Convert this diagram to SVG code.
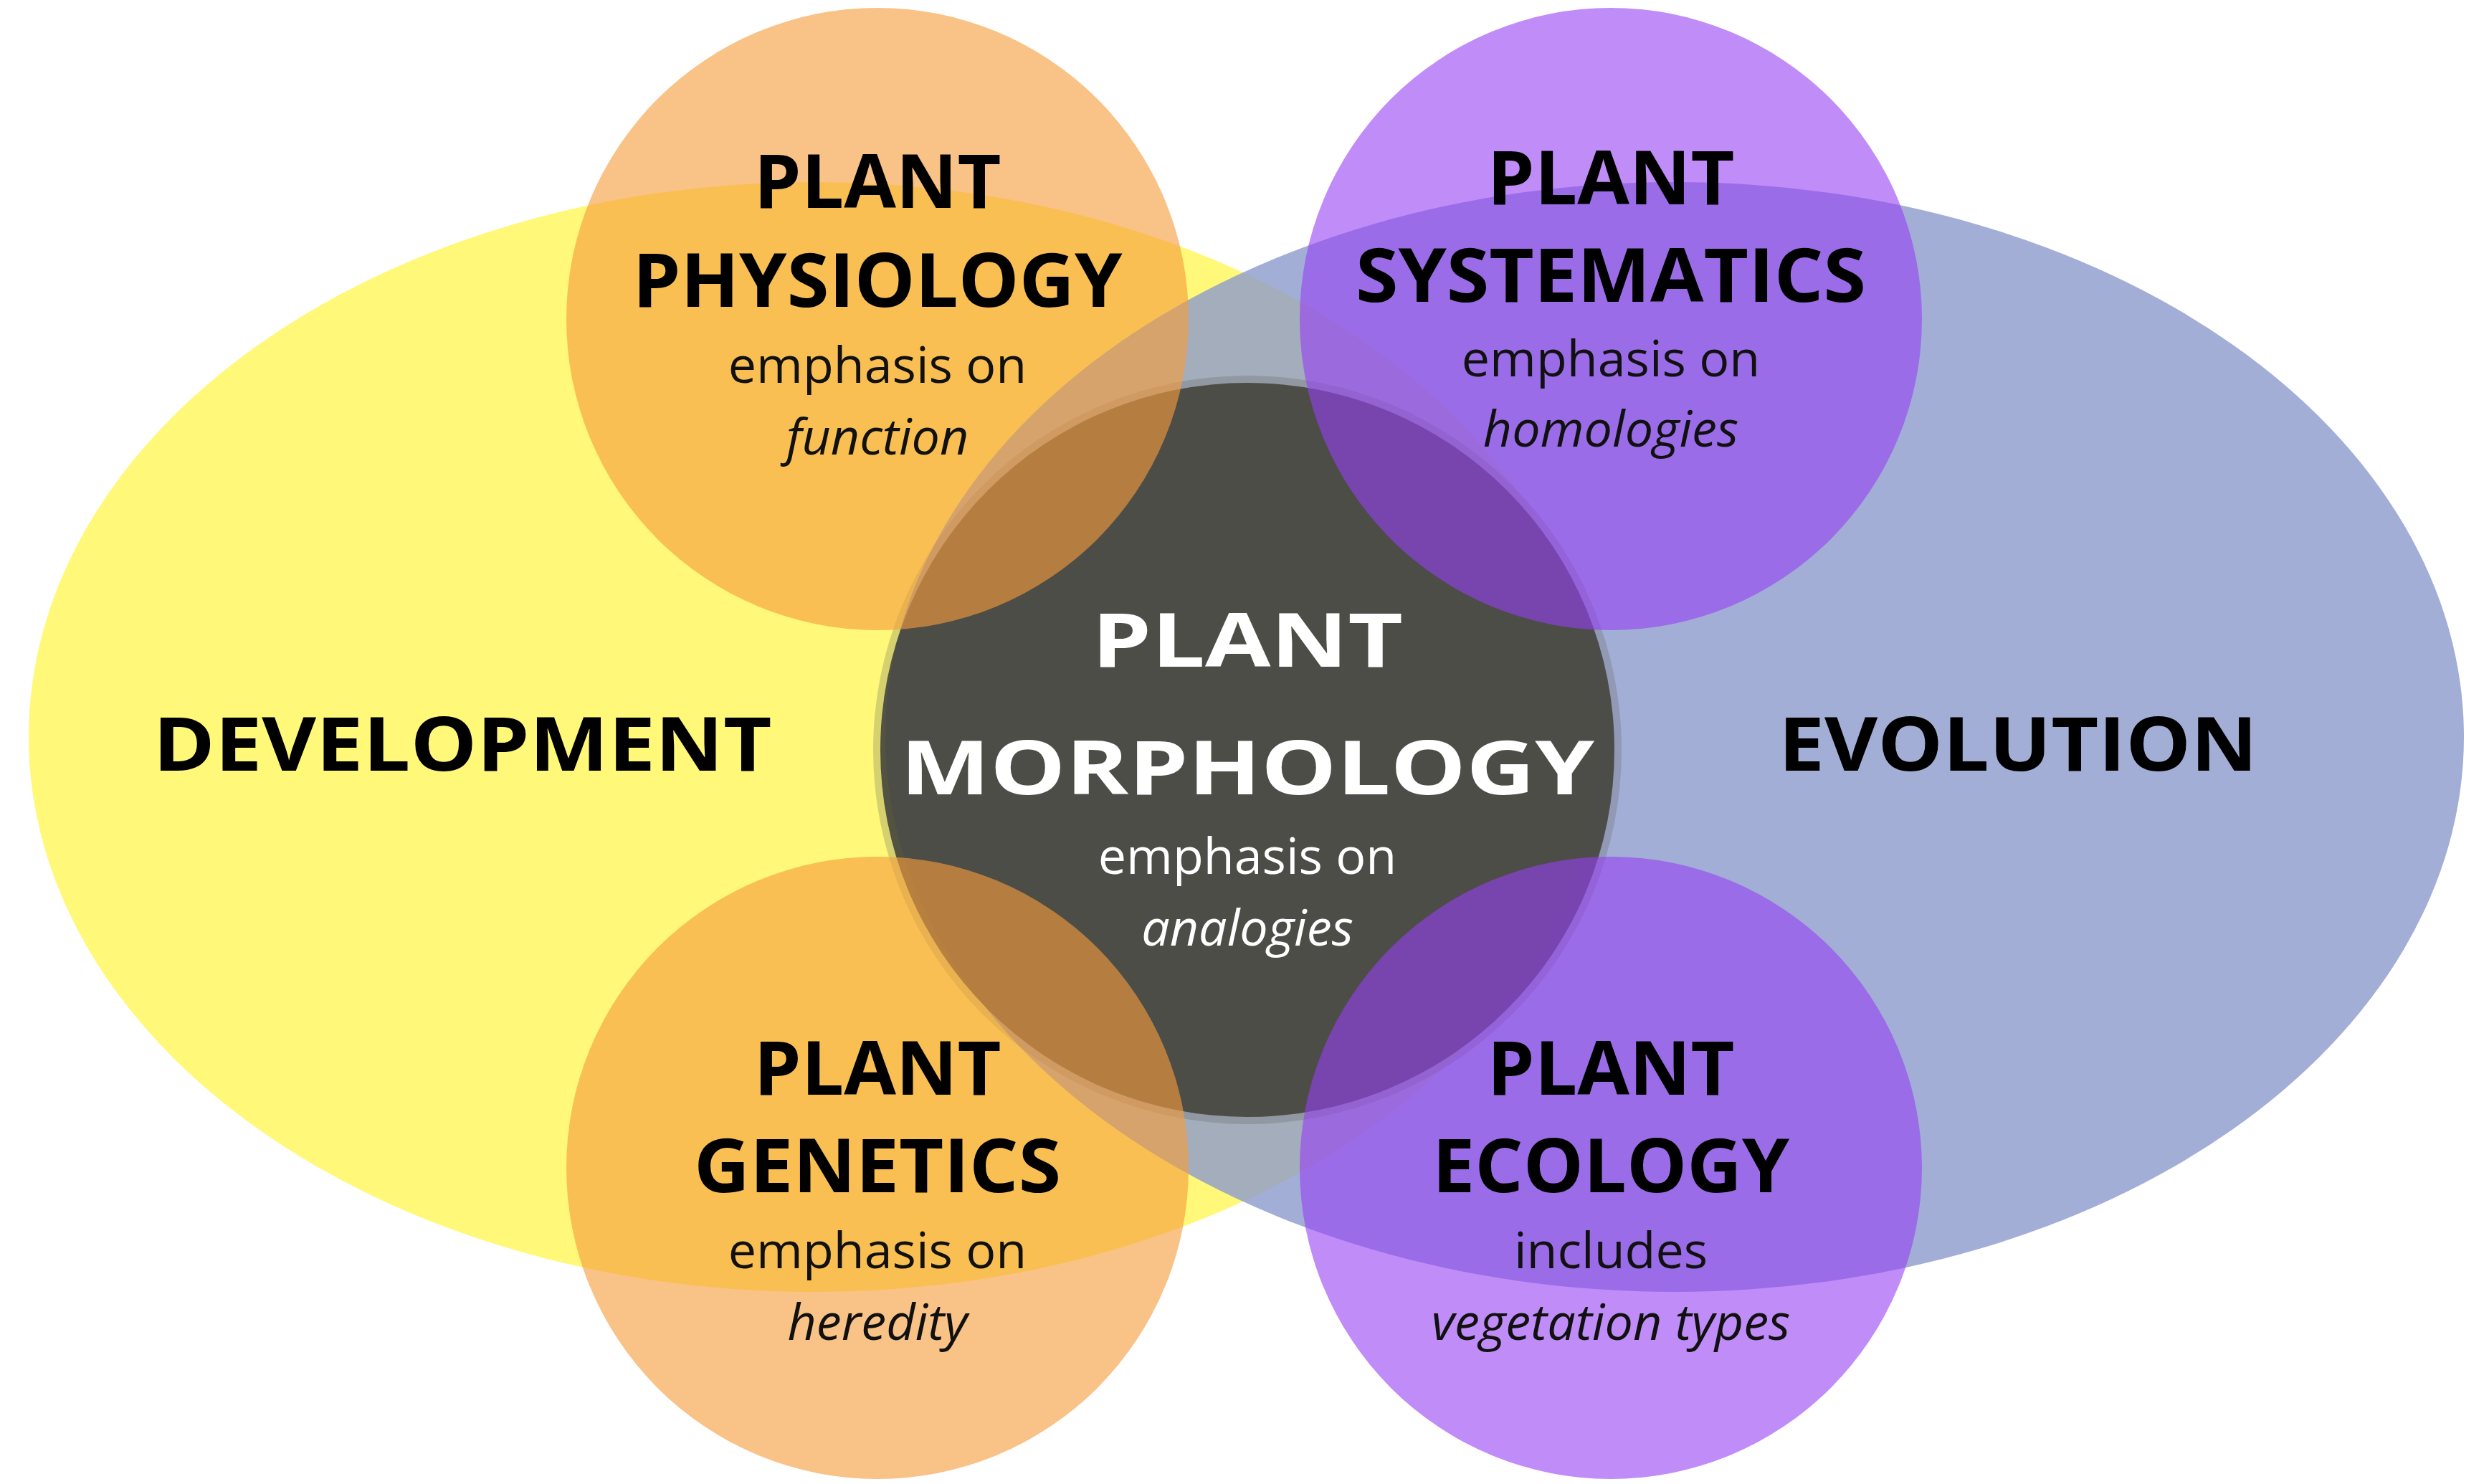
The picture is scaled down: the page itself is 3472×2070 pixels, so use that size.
<svg xmlns="http://www.w3.org/2000/svg" width="3472" height="2070" viewBox="0 0 3472 2070">
<style>
text{font-family:"Open Sans","Liberation Sans",sans-serif;text-anchor:middle}
.t{font-weight:bold;font-size:104px;fill:#000}
.s{font-size:70px;fill:#111}
.i{font-style:italic}
.w{fill:#fff}
</style>
<rect width="3472" height="2070" fill="#fff"/>
<g id="development"><ellipse cx="1135" cy="1028" rx="1095" ry="774" fill="#fff65c" opacity="0.82"/>
<text class="t" x="645" y="1075" textLength="863" lengthAdjust="spacingAndGlyphs">DEVELOPMENT</text></g>
<g id="evolution"><ellipse cx="2336" cy="1028" rx="1101" ry="774" fill="#8c9acc" opacity="0.8"/>
<text class="t" x="2815" y="1075" textLength="668" lengthAdjust="spacingAndGlyphs">EVOLUTION</text></g>
<g id="morphology"><circle cx="1740" cy="1046" r="522" fill="#5a5a52" opacity="0.25"/><circle cx="1740" cy="1046" r="512" fill="#45453d" opacity="0.9"/>
<text class="t w" x="1740" y="930" textLength="434" lengthAdjust="spacingAndGlyphs">PLANT</text>
<text class="t w" x="1740" y="1108" font-size="128" textLength="968" lengthAdjust="spacingAndGlyphs">MORPHOLOGY</text>
<text class="s w" x="1740" y="1219" style="fill:#fff">emphasis on</text>
<text class="s i" x="1740" y="1319" style="fill:#fff">analogies</text></g>
<g id="physiology"><circle cx="1224" cy="445" r="434" fill="#f59d3c" opacity="0.62"/>
<text class="t" x="1224" y="290" textLength="345" lengthAdjust="spacingAndGlyphs">PLANT</text>
<text class="t" x="1224" y="428" textLength="683" lengthAdjust="spacingAndGlyphs">PHYSIOLOGY</text>
<text class="s" x="1224" y="534">emphasis on</text>
<text class="s i" x="1224" y="634">function</text></g>
<g id="systematics"><circle cx="2247" cy="445" r="434" fill="#963ff3" opacity="0.6"/>
<text class="t" x="2247" y="285" textLength="345" lengthAdjust="spacingAndGlyphs">PLANT</text>
<text class="t" x="2247" y="421" textLength="712" lengthAdjust="spacingAndGlyphs">SYSTEMATICS</text>
<text class="s" x="2247" y="525">emphasis on</text>
<text class="s i" x="2247" y="623">homologies</text></g>
<g id="genetics"><circle cx="1224" cy="1629" r="434" fill="#f59d3c" opacity="0.62"/>
<text class="t" x="1224" y="1527" textLength="345" lengthAdjust="spacingAndGlyphs">PLANT</text>
<text class="t" x="1224" y="1663" textLength="512" lengthAdjust="spacingAndGlyphs">GENETICS</text>
<text class="s" x="1224" y="1769">emphasis on</text>
<text class="s i" x="1224" y="1869">heredity</text></g>
<g id="ecology"><circle cx="2247" cy="1629" r="434" fill="#963ff3" opacity="0.6"/>
<text class="t" x="2247" y="1527" textLength="345" lengthAdjust="spacingAndGlyphs">PLANT</text>
<text class="t" x="2247" y="1663" textLength="498" lengthAdjust="spacingAndGlyphs">ECOLOGY</text>
<text class="s" x="2247" y="1769">includes</text>
<text class="s i" x="2247" y="1869">vegetation types</text></g>
<g id="connectors"/>
</svg>
